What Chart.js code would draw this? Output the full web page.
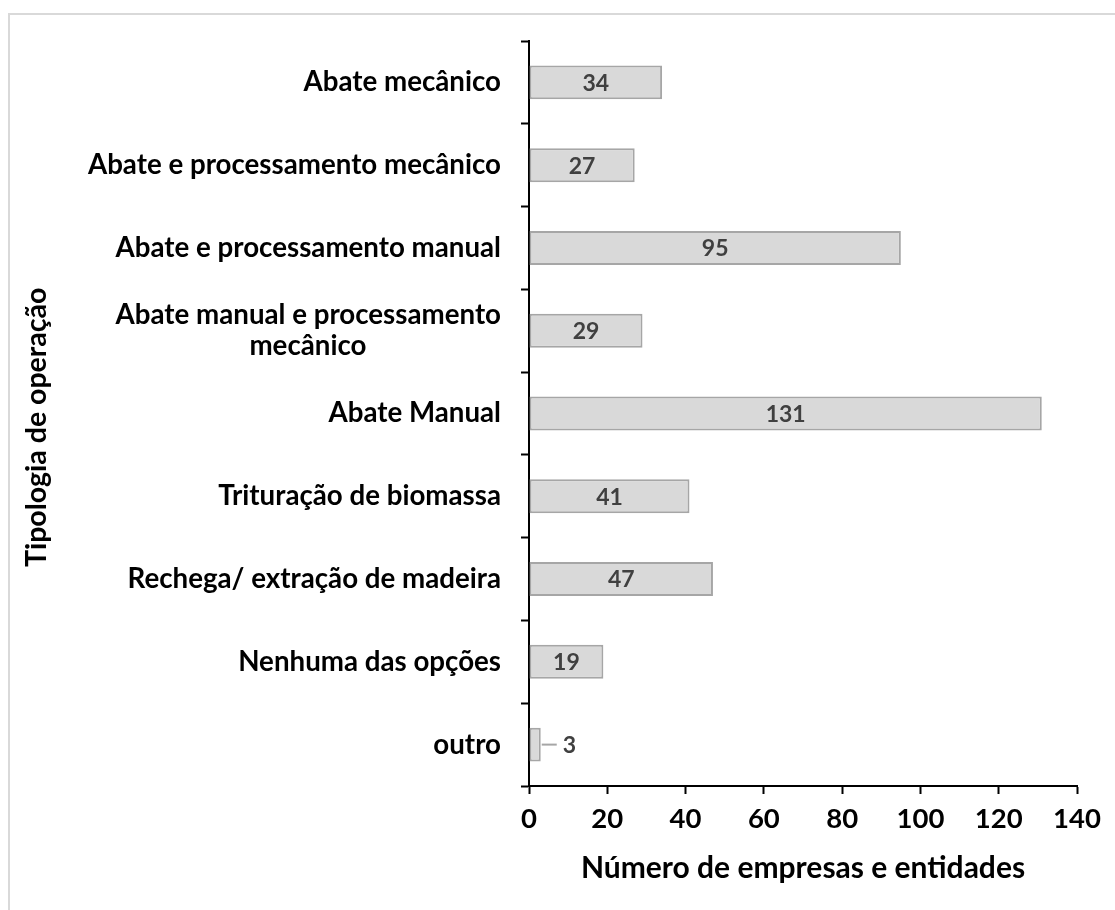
<!DOCTYPE html>
<html>
<head>
<meta charset="utf-8">
<script src="https://cdn.jsdelivr.net/npm/chart.js@4"></script>
<style>
  html, body { margin: 0; padding: 0; background: #fff; }
  #wrap { position: relative; width: 1115px; height: 910px; overflow: hidden; }
  #frame { position: absolute; left: 8px; top: 13px; width: 1200px; height: 1000px; border: 2px solid #d9d9d9; box-sizing: border-box; }
  canvas { position: absolute; left: 0; top: 0; }
</style>
</head>
<body>
<div id="wrap">
  <div id="frame"></div>
  <canvas id="chart" width="1115" height="910"></canvas>
</div>
<script>
// chart data
const categories = [
    "Abate mecânico",
    "Abate e processamento mecânico",
    "Abate e processamento manual",
    ["Abate manual e processamento", "mecânico" + " ".repeat(20)],
    "Abate Manual",
    "Trituração de biomassa",
    "Rechega/ extração de madeira",
    "Nenhuma das opções",
    "outro",
];
const values = [34, 27, 95, 29, 131, 41, 47, 19, 3];
const xTicks = [0, 20, 40, 60, 80, 100, 120, 140];

const FONT = "Lato, 'Open Sans', sans-serif";

// draws the value on each bar (outside with a short line if the bar is too small)
const valueLabels = {
    id: "valueLabels",
    afterDatasetsDraw(chart) {
        const ctx = chart.ctx;
        const meta = chart.getDatasetMeta(0);
        ctx.save();
        ctx.font = "bold 23px " + FONT;
        ctx.fillStyle = "#404040";
        ctx.textBaseline = "middle";
        meta.data.forEach((bar, i) => {
            const txt = String(values[i]);
            const w = ctx.measureText(txt).width;
            const len = bar.x - bar.base;
            if (len > w + 10) {
                ctx.textAlign = "center";
                ctx.fillText(txt, (bar.x + bar.base) / 2, bar.y + 1);
            } else {
                ctx.strokeStyle = "#a6a6a6";
                ctx.lineWidth = 2;
                ctx.beginPath();
                ctx.moveTo(bar.x + 1, bar.y);
                ctx.lineTo(bar.x + 16, bar.y);
                ctx.stroke();
                ctx.textAlign = "left";
                ctx.fillText(txt, bar.x + 22, bar.y + 1);
            }
        });
        ctx.restore();
    },
};

new Chart(document.getElementById("chart").getContext("2d"), {
    type: "bar",
    data: {
        labels: categories,
        datasets: [
            {
                data: values,
                backgroundColor: "#d9d9d9",
                borderColor: "#a6a6a6",
                borderWidth: 2,
                borderSkipped: false,
                barPercentage: 0.41,
                categoryPercentage: 1,
            },
        ],
    },
    options: {
        indexAxis: "y",
        responsive: false,
        animation: false,
        layout: { padding: { left: 16, top: 41, right: 38, bottom: 20 } },
        plugins: {
            legend: { display: false },
            tooltip: { enabled: false },
        },
        scales: {
            x: {
                min: 0,
                max: 140,
                afterBuildTicks: (scale) => {
                    scale.ticks = xTicks.map((v) => ({ value: v }));
                },
                afterFit: (scale) => {
                    scale.height = 910 - 786 - 20;
                },
                grid: {
                    drawOnChartArea: false,
                    tickLength: 8,
                    tickColor: "#000",
                    tickWidth: 2,
                },
                border: { color: "#000", width: 2 },
                ticks: {
                    color: "#000",
                    font: { family: FONT, size: 27.5, weight: "bold" },
                    padding: 9,
                    maxRotation: 0,
                },
                title: {
                    display: true,
                    text: "Número de empresas e entidades",
                    color: "#000",
                    font: { family: FONT, size: 30, weight: "bold" },
                    padding: { top: 0, bottom: 4 },
                },
            },
            y: {
                afterFit: (scale) => {
                    scale.width = 529 - 16;
                },
                grid: {
                    drawOnChartArea: false,
                    offset: true,
                    tickLength: 8,
                    tickColor: "#000",
                    tickWidth: 2,
                },
                border: { color: "#000", width: 2 },
                ticks: {
                    color: "#000",
                    font: { family: FONT, size: 27.7, weight: "bold", lineHeight: 1.1 },
                    padding: 20,
                },
                title: {
                    display: true,
                    // trailing spaces nudge the rotated title slightly down, like the original
                    text: "Tipologia de operação    ",
                    color: "#000",
                    font: { family: FONT, size: 28.5, weight: "bold" },
                    padding: 4,
                },
            },
        },
    },
    plugins: [valueLabels],
});
</script>
</body>
</html>
